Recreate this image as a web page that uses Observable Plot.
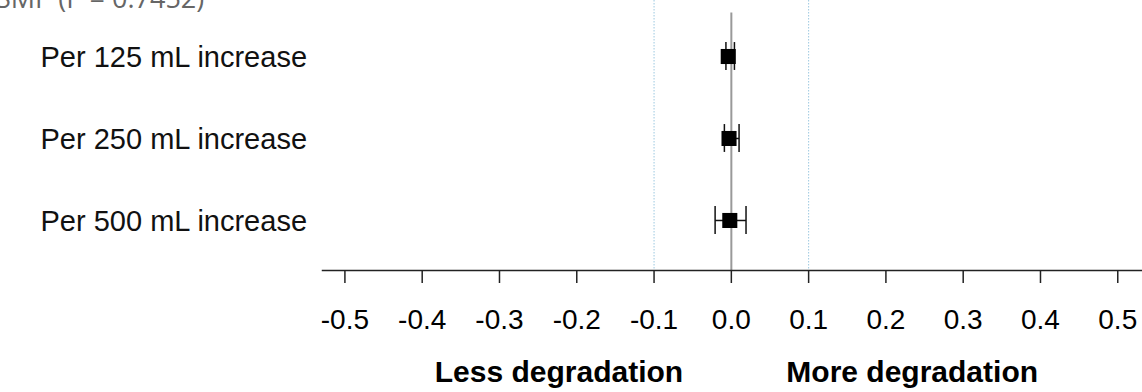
<!DOCTYPE html>
<html><head><meta charset="utf-8">
<script src="https://cdn.jsdelivr.net/npm/d3@7"></script>
<script src="https://cdn.jsdelivr.net/npm/@observablehq/plot@0.6"></script>
<style>
body{margin:0;background:#fff;overflow:hidden}
#chart{position:relative;width:1142px;height:392px;overflow:hidden}
#title{position:absolute;left:-4px;top:-21px;font-family:"Open Sans",sans-serif;font-size:27px;color:#666;white-space:nowrap}
</style>
</head><body>
<div id="chart"><div id="title">SMP (P = 0.7452)</div></div>
<script>
const labels = ["Per 125 mL increase", "Per 250 mL increase", "Per 500 mL increase"];
const estimates = [-0.004, -0.003, -0.002];
const lower = [-0.007, -0.009, -0.021];
const upper = [0.004, 0.010, 0.019];
const xTicks = [-0.5, -0.4, -0.3, -0.2, -0.1, 0.0, 0.1, 0.2, 0.3, 0.4, 0.5];
const refLines = [-0.1, 0.1];
const directionLabels = [{text: "Less degradation", x: -0.223}, {text: "More degradation", x: 0.234}];

const rows = labels.map((label, i) => ({label, i, est: estimates[i], lo: lower[i], hi: upper[i]}));

const font = "Liberation Sans, Arial, sans-serif";
const yBottom = 2.61, yTop = -0.683;
const cap = 0.17;
const chart = Plot.plot({
  width: 1142,
  height: 392,
  marginLeft: 322,
  marginRight: 0,
  marginTop: 0,
  marginBottom: 122,
  style: {fontFamily: font, background: "transparent", overflow: "visible"},
  x: {domain: [-0.529, 0.532]},
  y: {type: "linear", domain: [yTop, yBottom], reverse: true, axis: null},
  marks: [
    Plot.ruleX(refLines, {stroke: "#9cc8e0", strokeDasharray: "1.5,1.5", strokeWidth: 1}),
    Plot.ruleX([0], {stroke: "#999", strokeWidth: 2, y1: yBottom, y2: -0.53}),
    Plot.frame({anchor: "bottom", stroke: "#222", strokeWidth: 1.5}),
    Plot.axisX({ticks: xTicks, tickFormat: d => d.toFixed(1), tickSize: 13, tickPadding: 26, fontSize: 28, stroke: "#222", strokeWidth: 1.5, fill: "#000", label: null}),
    Plot.link(rows, {x1: "lo", x2: "hi", y1: "i", y2: "i", stroke: "#111", strokeWidth: 1.5}),
    Plot.ruleX(rows, {x: "lo", y1: d => d.i - cap, y2: d => d.i + cap, stroke: "#111", strokeWidth: 1.5}),
    Plot.ruleX(rows, {x: "hi", y1: d => d.i - cap, y2: d => d.i + cap, stroke: "#111", strokeWidth: 1.5}),
    Plot.dot(rows, {x: "est", y: "i", symbol: "square", r: 8.5, fill: "#000", stroke: null}),
    Plot.text(rows, {x: () => -0.529, y: "i", text: "label", textAnchor: "start", dx: -282, dy: 1, fontSize: 29, fill: "#111"}),
    Plot.text(directionLabels, {x: "x", y: () => yBottom, text: "text", dy: 102, fontSize: 30, fontWeight: "bold", fill: "#000"})
  ]
});
document.getElementById("chart").appendChild(chart);
</script>
</body></html>
